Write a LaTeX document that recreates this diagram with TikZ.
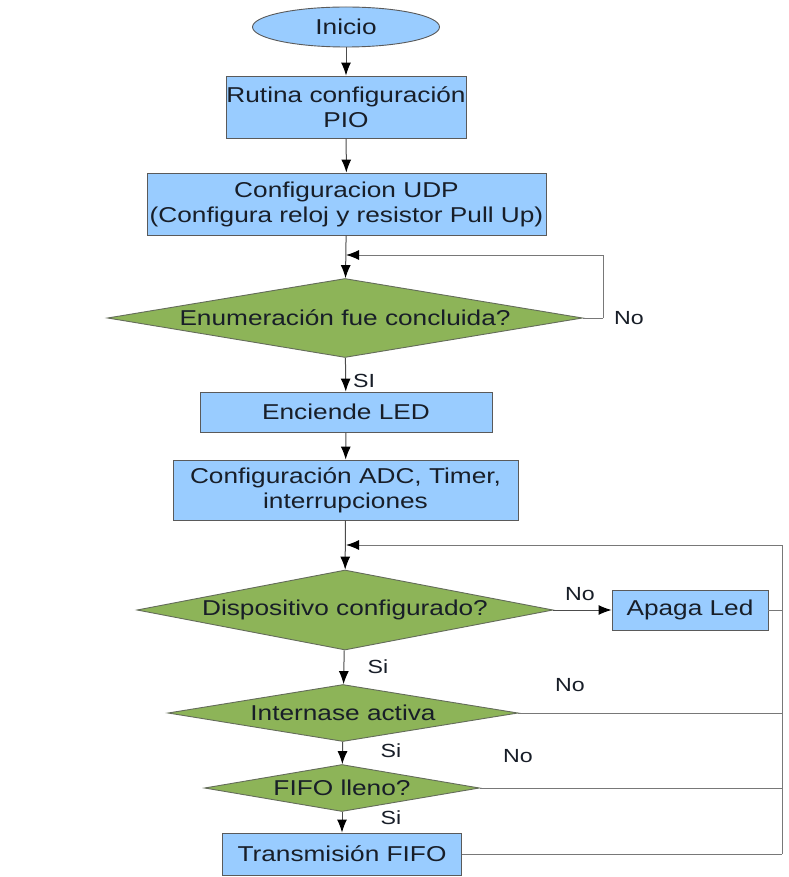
\documentclass[tikz,border=0pt]{standalone}
\usepackage{fontspec}
\setmainfont[FakeStretch=1.22]{Liberation Sans}
\usetikzlibrary{shapes.geometric,arrows.meta}
\definecolor{boxblue}{RGB}{153,204,255}
\definecolor{dgreen}{RGB}{141,180,88}
\definecolor{txt}{RGB}{24,30,40}
\definecolor{edge}{RGB}{90,90,90}
\definecolor{wire}{RGB}{120,120,120}
\tikzset{
  base/.style={draw=edge, line width=0.9pt, text=txt, inner sep=0pt,
    font=\fontsize{21.5}{25}\selectfont, align=center},
  term/.style={base, ellipse, fill=boxblue},
  proc/.style={base, rectangle, fill=boxblue},
  decide/.style={base, diamond, fill=dgreen, draw=edge!80!dgreen},
  arr/.style={draw=black!70, line width=1pt, -{Latex[length=13pt,width=10pt,fill=black,color=black]}},
  wirel/.style={draw=wire, line width=1pt},
  lbl/.style={text=txt, font=\fontsize{19}{22}\selectfont, inner sep=0pt}
}
\begin{document}
\begin{tikzpicture}[x=1pt,y=-1pt]
\useasboundingbox (0,0) rectangle (788,877);
\fill[white] (0,0) rectangle (788,877);
% nodes
\node[term, minimum width=187, minimum height=40] (ini) at (346,27) {Inicio};
\node[proc, minimum width=240, minimum height=62] (pio) at (346,107) {Rutina configuración\\PIO};
\node[proc, minimum width=399, minimum height=62] (udp) at (346.5,204) {Configuracion UDP\\(Configura reloj y resistor Pull Up)};
\node[decide, aspect=6.01, minimum width=475, minimum height=79] (d1) at (345,318) {Enumeración fue concluida?};
\node[proc, minimum width=292, minimum height=40] (led) at (346,412) {Enciende LED};
\node[proc, minimum width=345, minimum height=60] (adc) at (345.5,490) {Configuración ADC, Timer,\\interrupciones};
\node[decide, aspect=5.2, minimum width=416, minimum height=80] (d2) at (345,610) {Dispositivo configurado?};
\node[proc, minimum width=156, minimum height=40] (apaga) at (690,610) {Apaga Led};
\node[decide, aspect=6.14, minimum width=350, minimum height=57] (d3) at (343,713) {Internase activa};
\node[decide, aspect=5.85, minimum width=275, minimum height=47] (d4) at (342,788) {FIFO lleno?};
\node[proc, minimum width=239, minimum height=42] (tx) at (342,854) {Transmisión FIFO};
% helper coordinates
\coordinate (m1) at (346,255);
\coordinate (r1) at (603,318);
\coordinate (m2) at (346,545);
\coordinate (rA) at (782,610);
\coordinate (rB) at (782,713);
\coordinate (rC) at (782,788);
\coordinate (rD) at (782,854);
% connectors
\draw[arr] (ini) -- (pio);
\draw[arr] (pio) -- (udp);
\draw[arr] (udp) -- (d1);
\draw[wirel] (d1.east) -- (r1);
\draw[arr, draw=wire] (r1) |- (m1);
\draw[arr] (d1) -- (led);
\draw[arr] (led) -- (adc);
\draw[arr] (adc) -- (d2);
\draw[arr] (d2) -- (apaga);
\draw[arr] (d2) -- (d3);
\draw[arr] (d3) -- (d4);
\draw[arr] (d4) -- (tx);
\draw[wirel] (apaga.east) -- (rA);
\draw[wirel] (d3.east) -- (rB);
\draw[wirel] (d4.east) -- (rC);
\draw[wirel] (tx.east) -- (rD);
\draw[arr, draw=wire] (rD) |- (m2);
% labels
\node[lbl] (n1) at (629,318) {No};
\node[lbl] (s1) at (364,381) {SI};
\node[lbl] (n2) at (580,594) {No};
\node[lbl] (s2) at (378,667) {Si};
\node[lbl] (n3) at (570,685) {No};
\node[lbl] (s3) at (391,751) {Si};
\node[lbl] (n4) at (518,756) {No};
\node[lbl] (s4) at (391,818) {Si};
\end{tikzpicture}
\end{document}
